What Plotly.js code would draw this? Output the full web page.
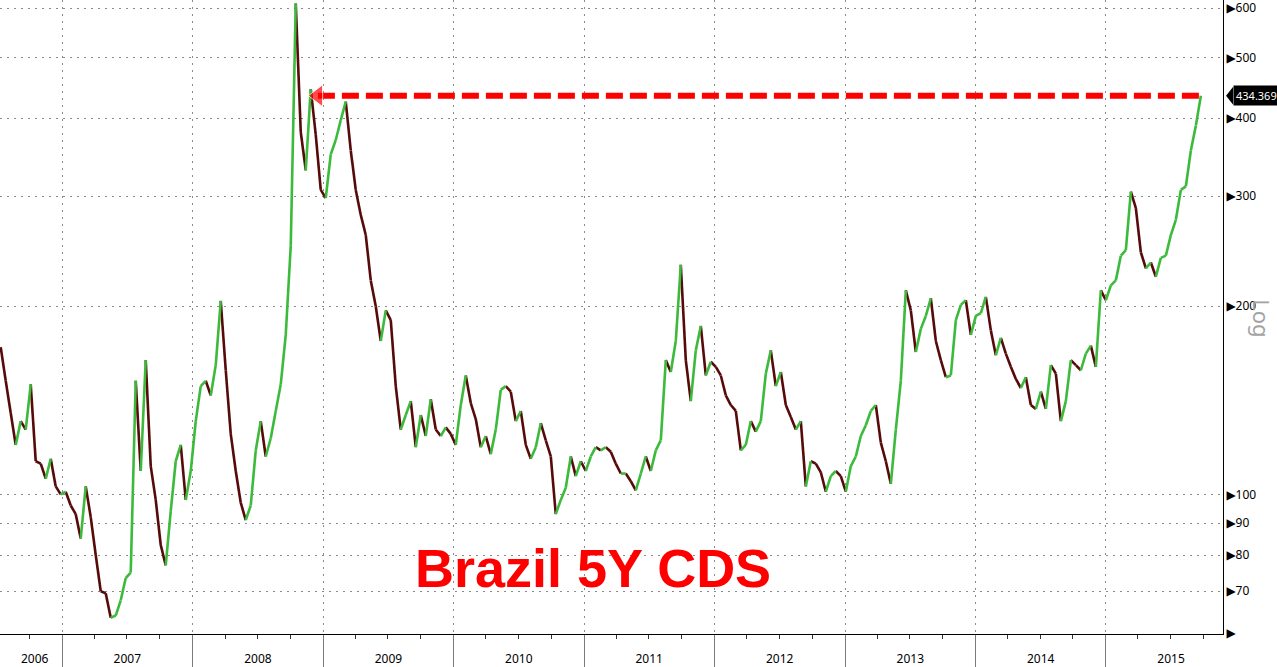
<!DOCTYPE html>
<html><head><meta charset="utf-8">
<script src="https://cdn.plot.ly/plotly-3.0.1.min.js"></script>
<style>html,body{margin:0;padding:0;background:#fff;}#chart{width:1277px;height:667px;}</style>
</head><body><div id="chart"></div>
<script>
// Brazil 5Y CDS, biweekly closes from 2006-07-13 to 2015-09-24
const startDate = '2006-07-13';
const stepDays = 14;
const cds = [
172,152,135,120,131,127,150,113,112,106,
114,103,100,101,96,93,85,103,92,80,
70,69.5,63.5,64,67.7,73.5,75,152,109,164,
111,98,83,77,94,113,120,98,109,131,
149,152,144,161,204,158,125,109,97,91,
96,117.6,131,115,123,136,150,180,250,610,
380,330,445,376,307,298,350,369,397,425,
355,307,280,260,220,200,176,197,190,149,
127,134,141,119,134,124,142,127,124,128,
125,120,139,155,140,132,119,124,116,127,
147,149,146,131,136,120,114,119,130,122,
115,93,98,102.5,115,107,113,109,115,119,
117.6,119,117,112,108,108,105,101.5,108,115,
109,117.6,122,164,157,176,233,164,141,170,
186,155,163,160,155,144,139,136,117.6,120,
131,126,131,156,170,149,157,139,133,127,
131,103,113,112,108.5,101,107,109,107,101,
111,115,124,129,136,139,121,113,104,127,
152,212,197,169,184,193,206,176,164,154,
155,190,201,204.5,180,193,195,207,183,167,
178,168,160,153,148,154,139,137,146,137,
161,156,131,141,164,161,158,168,173,160,
212,204.5,216,220,241,246,305,287,244,230,
235,223,239,241,260,275,307,311,355,389,
434.369
];
const yTickVals = [60, 70, 80, 90, 100, 200, 300, 400, 500, 600];
const yTickText = ['', '70', '80', '90', '100', '200', '300', '400', '500', '600'];
const firstYearLabel = '2006';
const firstYearLabelDate = '2006-10-17';
const lastLabel = '434.369';
const priorPeakDate = '2008-12-17';
const titleText = 'Brazil 5Y CDS';

const [sy, sm, sd] = startDate.split('-').map(Number);
const t0 = Date.UTC(sy, sm - 1, sd);
const dates = cds.map((_, i) => new Date(t0 + i * stepDays * 86400000).toISOString().slice(0, 10));
const lastVal = cds[cds.length - 1];
const lastDate = dates[dates.length - 1];

// split the path into rising (green) and falling (dark red) segments
const upX = [], upY = [], dnX = [], dnY = [];
for (let i = 1; i < cds.length; i++) {
  const rising = cds[i] >= cds[i - 1];
  const tx = rising ? upX : dnX;
  const ty = rising ? upY : dnY;
  tx.push(dates[i - 1], dates[i], null);
  ty.push(cds[i - 1], cds[i], null);
}

const traces = [
  {type: 'scatter', mode: 'lines', x: dnX, y: dnY, connectgaps: false,
   line: {color: '#560a0a', width: 2.6}, hoverinfo: 'skip', showlegend: false},
  {type: 'scatter', mode: 'lines', x: upX, y: upY, connectgaps: false,
   line: {color: '#3cba3c', width: 2.6}, hoverinfo: 'skip', showlegend: false},
  {type: 'scatter', mode: 'lines+markers',
   x: [priorPeakDate, lastDate], y: [lastVal, lastVal],
   line: {color: '#ff0000', width: 6, dash: '17px,7px'},
   marker: {symbol: 'triangle-left', size: [19, 0], color: '#ff0000'},
   hoverinfo: 'skip', showlegend: false}
];

const yMin = Math.log10(59.8), yMax = Math.log10(618);
const tagY = (Math.log10(lastVal) - yMin) / (yMax - yMin);
const gridCol = '#8a8a8a';
const layout = {
  width: 1277, height: 667,
  margin: {l: 0, r: 54, t: 0, b: 33, pad: 0},
  paper_bgcolor: '#ffffff', plot_bgcolor: '#ffffff',
  showlegend: false,
  font: {family: 'Noto Sans, DejaVu Sans, sans-serif', size: 12, color: '#000'},
  xaxis: {
    type: 'date', range: ['2006-07-11', '2015-11-25'],
    dtick: 'M12', tick0: '2007-01-01', ticklabelmode: 'period', tickformat: '%Y',
    ticks: 'outside', ticklen: 33, tickcolor: '#7a7a7a', tickwidth: 1,
    ticklabelstandoff: -19,
    showgrid: true, gridcolor: gridCol, griddash: '2px,5px', gridwidth: 1,
    showline: true, linecolor: '#000', linewidth: 1, zeroline: false,
    minor: {dtick: 'M3', tick0: '2007-01-01', ticks: 'outside', ticklen: 4, tickcolor: '#333', tickwidth: 1, showgrid: false},
    tickfont: {size: 12, color: '#000'}, fixedrange: true
  },
  yaxis: {
    type: 'log', side: 'right', range: [yMin, yMax],
    tickmode: 'array', tickvals: yTickVals,
    ticktext: yTickText.map(t => '\u25B6' + t),
    ticklabeloverflow: 'allow',
    ticks: '', showgrid: true, gridcolor: gridCol, griddash: '2px,5px', gridwidth: 1,
    showline: true, linecolor: '#000', linewidth: 1, zeroline: false,
    tickfont: {size: 12, color: '#000'}, fixedrange: true
  },
  shapes: [
    {type: 'path', xref: 'paper', yref: 'paper', layer: 'above',
     path: 'M 1.0025 ' + tagY + ' L 1.0083 ' + (tagY + 0.0142) + ' L 1.0083 ' + (tagY - 0.0142) + ' Z',
     fillcolor: '#000', line: {width: 0}}
  ],
  annotations: [
    {xref: 'x', x: firstYearLabelDate, yref: 'paper', y: 0, yshift: -24, yanchor: 'middle',
     text: firstYearLabel, showarrow: false, font: {size: 12, color: '#000'}},
    {xref: 'paper', x: 1, xanchor: 'left', xshift: 10, yref: 'paper', y: tagY, yanchor: 'middle',
     text: lastLabel, showarrow: false, bgcolor: '#000', borderpad: 2,
     font: {size: 11, color: '#fff'}},
    {xref: 'paper', x: 1, xanchor: 'center', xshift: 39, yref: 'paper', y: 0.498,
     text: 'Log', textangle: 90, showarrow: false, font: {size: 22, color: '#a3a3a3'}},
    {xref: 'paper', x: 0.4849, yref: 'paper', y: 0.104, xanchor: 'center', yanchor: 'middle',
     text: '<b>' + titleText + '</b>', showarrow: false,
     font: {family: 'Liberation Sans, Arial, sans-serif', size: 54, color: '#ff0000'}}
  ]
};

Plotly.newPlot('chart', traces, layout, {displayModeBar: false, staticPlot: true});
</script>
</body></html>
